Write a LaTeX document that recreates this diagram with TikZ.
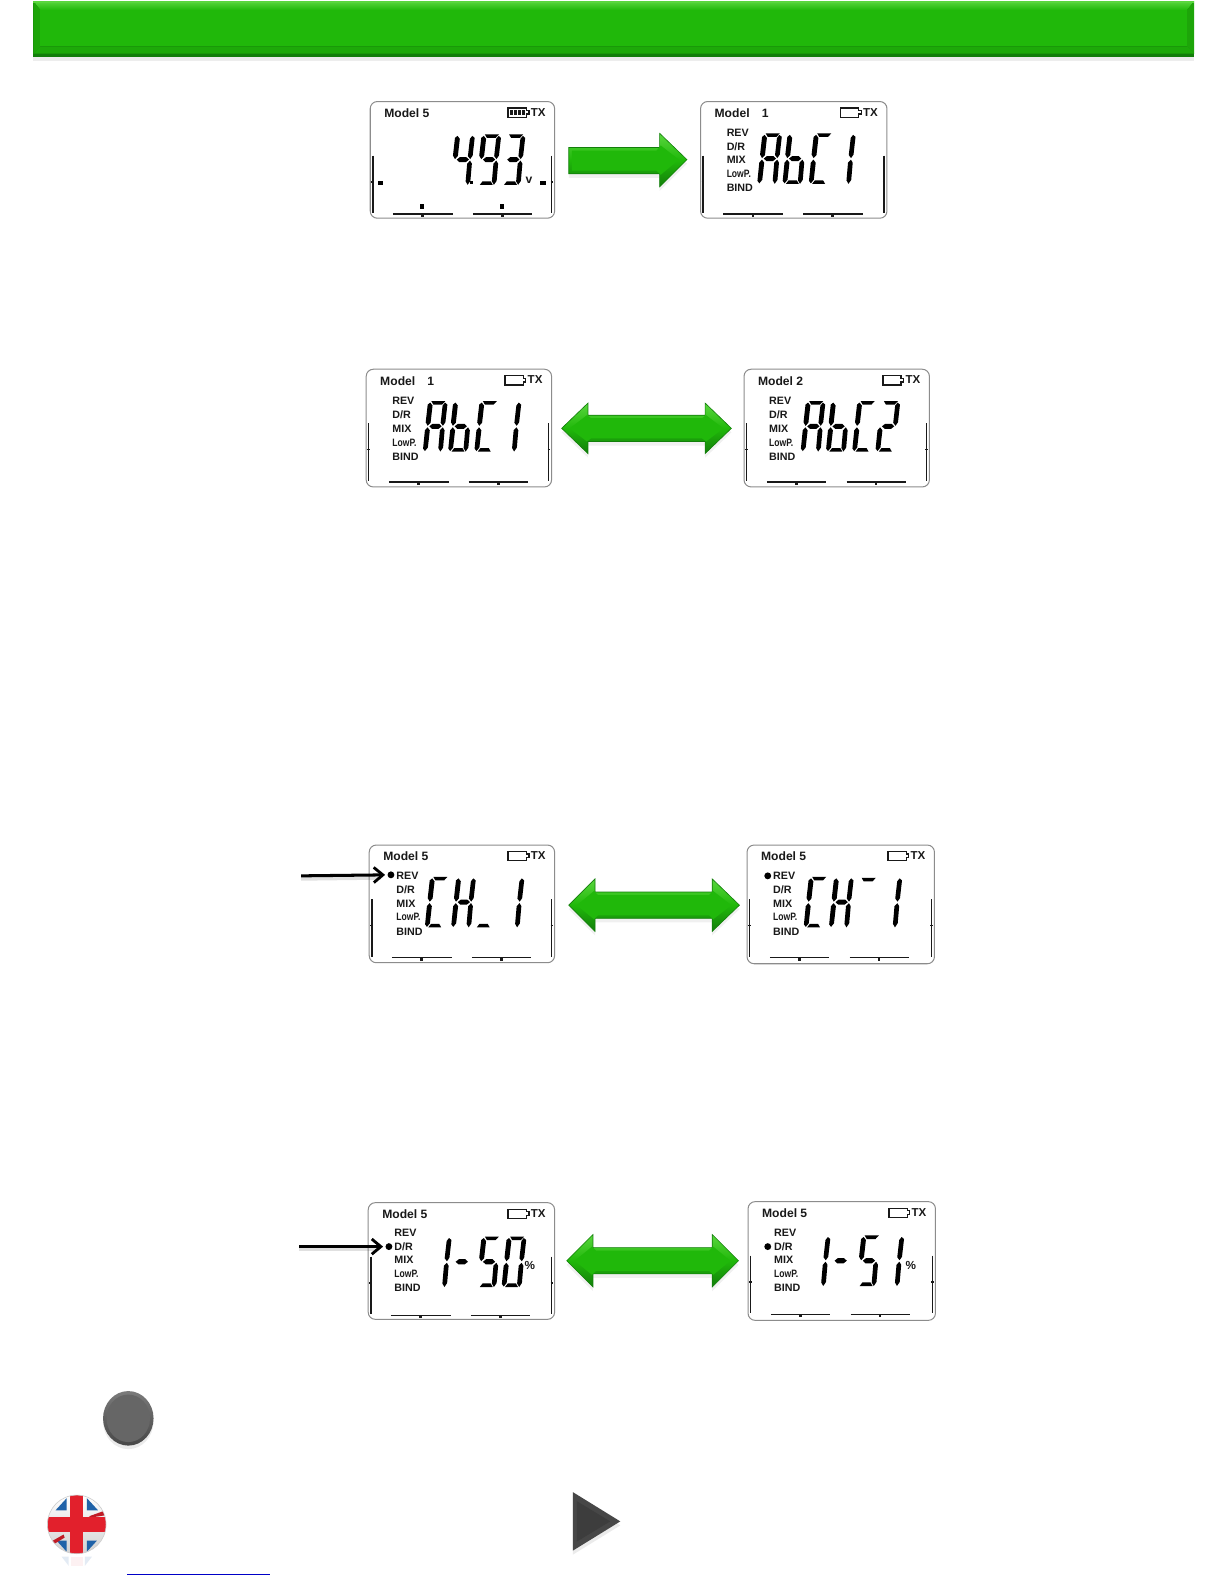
\documentclass[tikz,border=0pt]{standalone}
\usepackage{graphicx}
\usepackage{fontspec}
\setmainfont{Liberation Sans}
\usetikzlibrary{arrows.meta,calc}
\definecolor{grn}{HTML}{20B80A}
\definecolor{grnlt}{HTML}{5AD63E}
\definecolor{grndk}{HTML}{127E0A}
\definecolor{flagblue}{HTML}{1F62A8}
\definecolor{flagred}{HTML}{E2202C}
\tikzset{
  x=0.5pt,y=-0.5pt,
  lcdframe/.style={draw=black!45,line width=0.5pt,rounded corners=3.5pt,fill=white},
  lcdbar/.style={draw=black!90,line width=0.75pt},
  lcdseg/.style={fill=black,draw=none},
  lcdtext/.style={inner sep=0pt,anchor=west,font=\bfseries\fontsize{5.3}{6}\selectfont,text=black!90},
  lcdmodel/.style={lcdtext,font=\bfseries\fontsize{6}{7}\selectfont},
  lcdtx/.style={lcdtext,font=\bfseries\fontsize{5.7}{6}\selectfont},
  markdot/.style={circle,fill=black,inner sep=0pt,minimum size=3.4pt},
  pointer/.style={draw=black,line width=1.5pt,shorten >=1pt,-{Straight Barb[length=4.5pt,width=7.5pt,line width=1.4pt]}},
  pointershade/.style={draw=black,opacity=0.12,line width=1.8pt},
}
% seven-segment pieces, local frame about 17 x 50, origin top left
\newcommand\sega{\fill[lcdseg] (3,0)--(15,0)--(12.5,3.5)--(5,3.5)--cycle;}
\newcommand\segb{\fill[lcdseg] (14.8,1.5)--(17,3.5)--(16.8,21)--(15,24.5)--(12.8,21.5)--(13,4.5)--cycle;}
\newcommand\segc{\fill[lcdseg] (15,26)--(16.8,29)--(17,46)--(15,50)--(13,46.5)--(12.8,29)--cycle;}
\newcommand\segd{\fill[lcdseg] (3,50)--(14,50)--(12,46.5)--(5,46.5)--cycle;}
\newcommand\sege{\fill[lcdseg] (2,26)--(4.2,29)--(4,46)--(1.8,49.5)--(0,47)--(0,29)--cycle;}
\newcommand\segf{\fill[lcdseg] (2.2,1.5)--(4.4,4.5)--(4.2,21.5)--(2,24.5)--(0,21)--(0.2,3.5)--cycle;}
\newcommand\segg{\fill[lcdseg] (3.5,25)--(6,22.5)--(11.5,22.5)--(14,25)--(11.5,27.5)--(6,27.5)--cycle;}
% \lcddigit{x}{y}{a,b,...}
\newcommand\lcddigit[3]{\begin{scope}[shift={(#1-1.5,#2)},xslant=0.1,xscale=1.16]
  \foreach \s in {#3}{\csname seg\s\endcsname}
\end{scope}}
% \lcdscreen{name}{x}{y}{w}{h}{model}{full?}
\newcommand\lcdscreen[7]{
  \node[lcdframe,anchor=north west,inner sep=0pt,minimum width={(#4-0.5)*0.5pt},minimum height={(#5-0.5)*0.5pt}] (#1) at (#2,#3) {};
  \begin{scope}[shift={(#2,#3)}]
    \node[lcdmodel] (#1model) at (14,12) {#6};
    \draw[line width=0.65pt,black!90] (#4-46,7) -- (#4-28,7) -- (#4-28,9.5) -- (#4-25.5,9.5) -- (#4-25.5,13) -- (#4-28,13) -- (#4-28,16) -- (#4-46,16) -- cycle;
    \ifnum#7=1
      \foreach \b in {0,1,2,3}{\fill[black!90] (#4-44.5+\b*4,9) rectangle ++(3,5);}
    \fi
    \node[lcdtx] (#1tx) at (#4-24,11) {TX};
    \draw[lcdbar] (3,54) -- (3,111);
    \draw[lcdbar] (#4-3,54) -- (#4-3,111);
    \draw[lcdbar] (1.5,80) -- (4,80);
    \draw[lcdbar] (#4-4,80) -- (#4-1.5,80);
    \draw[lcdbar] (23,112) -- (82,112);
    \draw[lcdbar] (102,112) -- (161,112);
    \fill[black!90] (51,112) rectangle ++(2.5,3);
    \fill[black!90] (130,112) rectangle ++(2.5,3);
  \end{scope}
}
% \lcdlabels{name}{x}{y}{x-offset}{y-offset}
\newcommand\lcdlabels[5]{
  \node[lcdtext] (#1rev) at (#2+#4,#3+#5) {REV};
  \node[lcdtext] (#1dr) at (#2+#4,#3+#5+14) {D/R};
  \node[lcdtext] (#1mix) at (#2+#4,#3+#5+27.5) {MIX};
  \node[lcdtext] (#1low) at (#2+#4,#3+#5+41) {\scalebox{0.8}[1]{LowP.}};
  \node[lcdtext] (#1bind) at (#2+#4,#3+#5+55) {BIND};
}
% \dblarrow{xl}{xbl}{xbr}{xr}{yc}{hh}{bh}
\newcommand\dblarrow[7]{
  \fill[black,opacity=0.06] (#1,#5+4) -- (#2,#5-#6+4) -- (#2,#5-#7+4) -- (#3,#5-#7+4) -- (#3,#5-#6+4) -- (#4,#5+4) -- (#3,#5+#6+4) -- (#3,#5+#7+4) -- (#2,#5+#7+4) -- (#2,#5+#6+4) -- cycle;
  \path[top color=grnlt,bottom color=grndk,middle color=grn,draw=grndk,line width=0.3pt] (#1,#5) -- (#2,#5-#6) -- (#2,#5-#7) -- (#3,#5-#7) -- (#3,#5-#6) -- (#4,#5) -- (#3,#5+#6) -- (#3,#5+#7) -- (#2,#5+#7) -- (#2,#5+#6) -- cycle;
  \fill[grn] (#1+8,#5) -- (#2-1,#5-#6+12) -- (#2+3,#5-#7+3) -- (#3-3,#5-#7+3) -- (#3+1,#5-#6+12) -- (#4-8,#5) -- (#3+1,#5+#6-12) -- (#3-3,#5+#7-3) -- (#2+3,#5+#7-3) -- (#2-1,#5+#6-12) -- cycle;
}
\begin{document}
\begin{tikzpicture}
\useasboundingbox (0,0) rectangle (1212,1568);
\fill[white] (0,0) rectangle (1212,1568);
% header band
\fill[black,opacity=0.07] (33,55) rectangle (1182,60);
\fill[grndk] (33,1) rectangle (1182,56.5);
\path[top color=grnlt,bottom color=grn] (33,1) -- (1182,1) -- (1175,10) -- (40,10) -- cycle;
\fill[grn!90!black] (33,1) -- (40,10) -- (40,46) -- (33,53) -- cycle;
\fill[grn!90!black] (1182,1) -- (1175,10) -- (1175,46) -- (1182,53) -- cycle;
\fill[grn!92!black] (33,53) -- (40,46) -- (1175,46) -- (1182,53) -- cycle;
\fill[grn] (40,10) rectangle (1175,46);
\fill[grnlt] (33,1) rectangle (1182,2.5);

% screen 1
\lcdscreen{sa}{366}{100}{183}{116}{Model 5}{1}
\begin{scope}[shift={(366,100)}]
\lcddigit{86}{33}{f,g,b,c}
\lcddigit{112}{33}{a,f,b,g,c,d}
\lcddigit{136}{33}{a,b,g,c,d}
\fill (99,79) rectangle ++(3.5,3.5);
\node[lcdtext,font=\bfseries\fontsize{6}{6}\selectfont] (sav) at (154,78) {v};
\fill (8,79) rectangle ++(5.5,4);
\fill (169,79) rectangle ++(5.5,4);
\fill (49.5,102) rectangle ++(4,5);
\fill (129,102) rectangle ++(4,5);
\end{scope}
% arrow 1
\fill[black,opacity=0.06] (563,150) -- (653,150) -- (653,136) -- (680,162) -- (653,189) -- (653,176) -- (563,176) -- cycle;
\path[top color=grnlt,bottom color=grndk,middle color=grn,draw=grndk,line width=0.3pt] (563,146) -- (653,146) -- (653,132) -- (680,158) -- (653,185) -- (653,172) -- (563,172) -- cycle;
\fill[grn] (566,149) -- (650,149) -- (654,144) -- (672,158) -- (654,173) -- (650,169) -- (566,169) -- cycle;
% screen 2
\lcdscreen{sb}{693}{100}{185}{116}{Model\hspace{6pt}1}{0}
\lcdlabels{sb}{693}{100}{26}{31}
\begin{scope}[shift={(693,100)}]
\lcddigit{63}{32}{a,b,c,e,f,g}
\lcddigit{88}{32}{c,d,e,f,g}
\lcddigit{114}{32}{a,d,e,f}
\lcddigit{136}{32}{b,c}
\end{scope}

% screen 3
\lcdscreen{sc}{362}{365}{184}{117}{Model\hspace{6pt}1}{0}
\lcdlabels{sc}{362}{365}{26}{32}
\begin{scope}[shift={(362,365)}]
\lcddigit{63}{32}{a,b,c,e,f,g}
\lcddigit{88}{32}{c,d,e,f,g}
\lcddigit{114}{32}{a,d,e,f}
\lcddigit{136}{32}{b,c}
\end{scope}
\dblarrow{556}{582}{698}{724}{424}{25}{13}
% screen 4
\lcdscreen{sd}{736}{365}{184}{117}{Model 2}{0}
\lcdlabels{sd}{736}{365}{25}{32}
\begin{scope}[shift={(736,365)}]
\lcddigit{63}{32}{a,b,c,e,f,g}
\lcddigit{88}{32}{c,d,e,f,g}
\lcddigit{114}{32}{a,d,e,f}
\lcddigit{137}{32}{a,b,g,e,d}
\end{scope}

% screen 5
\lcdscreen{se}{365}{836}{184}{117}{Model 5}{0}
\lcdlabels{se}{365}{836}{27}{31}
\begin{scope}[shift={(365,836)}]
\lcddigit{62}{32}{a,d,e,f}
\lcddigit{88}{32}{b,c,e,f,g}
\lcddigit{110}{32}{d}
\lcddigit{136}{32}{b,c}
\end{scope}
\dblarrow{563}{589}{705}{732}{896}{26}{13}
% screen 6
\lcdscreen{sf}{739}{836}{186}{118}{Model 5}{0}
\lcdlabels{sf}{739}{836}{26}{31}
\begin{scope}[shift={(739,836)}]
\lcddigit{63}{32}{a,d,e,f}
\lcddigit{88}{32}{b,c,e,f,g}
\lcddigit{112}{33}{a}
\lcddigit{136}{32}{b,c}
\end{scope}
\node[markdot] (sfdot) at (760,867) {};
% pointer A
\coordinate (pa) at (298,867);
\node[markdot] (sedot) at (387,866) {};
\draw[pointershade] ($(pa)+(0,3)$) -- ($(sedot.west)+(-6,3)$);
\draw[pointer] (pa) -- (sedot.west);

% screen 7
\lcdscreen{sg}{364}{1190}{185}{116}{Model 5}{0}
\lcdlabels{sg}{364}{1190}{26}{30}
\begin{scope}[shift={(364,1190)}]
\lcddigit{65}{34}{b,c}
\lcddigit{87}{34}{g}
\lcddigit{114}{34}{a,f,g,c,d}
\lcddigit{139}{34}{a,b,c,d,e,f}
\end{scope}
\node[lcdtext,font=\bfseries\fontsize{5.8}{6}\selectfont] (sgpct) at (519,1253) {\%};
\dblarrow{561}{587}{705}{731}{1248}{26}{13}
% screen 8
\lcdscreen{sh}{740}{1189}{186}{118}{Model 5}{0}
\lcdlabels{sh}{740}{1189}{26}{31}
\begin{scope}[shift={(740,1189)}]
\lcddigit{64}{34}{b,c}
\lcddigit{86}{34}{g}
\lcddigit{114}{34}{a,f,g,c,d}
\lcddigit{137}{34}{b,c}
\end{scope}
\node[lcdtext,font=\bfseries\fontsize{5.8}{6}\selectfont] (shpct) at (896,1253) {\%};
\node[markdot] (shdot) at (760,1234) {};
% pointer B
\coordinate (pb) at (296,1234);
\node[markdot] (sgdot) at (385,1234) {};
\draw[pointershade] ($(pb)+(0,3)$) -- ($(sgdot.west)+(-6,3)$);
\draw[pointer] (pb) -- (sgdot.west);

% grey button
\fill[black,opacity=0.08] (127,1407) ellipse (25 and 27.5);
\shade[top color=black!52,bottom color=black!72] (127,1404) ellipse (25 and 27);
\fill[black!60] (127,1404) ellipse (21.5 and 23.5);

% flag
\begin{scope}[shift={(76,1509)}]
\begin{scope}
\clip (0,0) circle (29);
\shade[top color=white,bottom color=black!18] (-30,-30) rectangle (30,30);
\foreach \sx in {-1,1}{
  \fill[flagblue] (\sx*10,-14) -- (\sx*10,-26) -- (\sx*21,-14) -- cycle;
  \fill[flagblue] (\sx*10,16) -- (\sx*10,27) -- (\sx*20,16) -- cycle;
}
\fill[flagred!85!black] (12,-8) -- (26,-13) -- (28,-9) -- (15,-7) -- cycle;
\fill[flagred!85!black] (-27,18) -- (-13,10) -- (-12,13) -- (-25,21) -- cycle;
\fill[flagred] (-6.5,-30) rectangle (6.5,30);
\fill[flagred] (-30,-7.5) rectangle (30,7.5);
\end{scope}
\draw[black!20,line width=0.3pt] (0,0) circle (29);
% reflection
\fill[flagblue,opacity=0.12] (-15,32) -- (-8,32) -- (-8,41) -- cycle;
\fill[flagblue,opacity=0.12] (8,32) -- (15,32) -- (8,41) -- cycle;
\fill[flagred,opacity=0.06] (-6,32) rectangle (6,41);
\end{scope}

% link underline
\draw[draw={rgb,255:red,0;green,0;blue,200},line width=0.5pt] (126,1559) -- (267,1559);

% play triangle
\fill[black,opacity=0.08] (567,1481) -- (614,1510) -- (567,1539) -- cycle;
\fill[black!72] (567,1477) -- (614,1506) -- (567,1535) -- cycle;
\fill[black!76] (571,1486) -- (604,1506) -- (571,1526) -- cycle;
\end{tikzpicture}
\end{document}
